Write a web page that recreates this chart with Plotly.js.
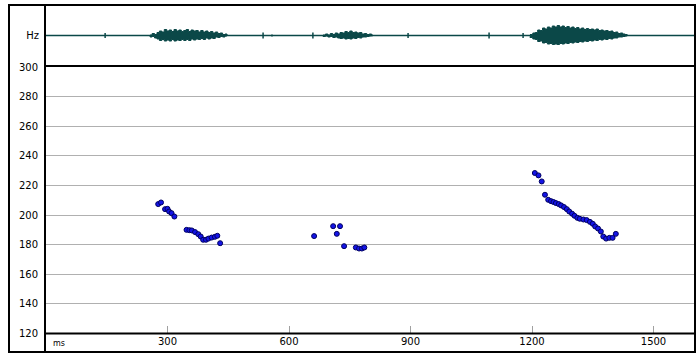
<!DOCTYPE html>
<html>
<head>
<meta charset="utf-8">
<script src="https://cdn.plot.ly/plotly-3.0.1.min.js"></script>
<style>html,body{margin:0;padding:0;background:#fff;}#chart{width:696px;height:354px;}</style>
</head>
<body>
<div id="chart"></div>
<script>
// ---- pitch track (ms, Hz) ----
const pitchMs = [277,284,294,300,304,310,317,347,354,360,368,376,382,388,395,401,409,417,423,430,
  662,709,718,726,736,765,773,780,786,
  1207,1216,1224,1232,1240,1247,1253,1259,1266,1272,1279,1286,1292,1299,1305,1312,1318,1327,1335,1343,1350,1356,1363,1370,1376,1383,1391,1399,1407];
const pitchHz = [207.4,208.5,204.0,204.2,202.4,201.3,199.0,190.0,189.8,189.6,188.5,187.1,185.5,183.3,183.3,184.1,184.8,185.3,186.0,181.0,
  185.8,192.5,187.3,192.5,179.0,178.1,177.4,177.4,178.1,
  228.4,226.8,222.7,213.7,210.3,209.4,208.8,208.1,207.4,206.5,205.4,204.0,202.4,200.9,199.5,198.1,197.5,197.0,196.6,195.4,194.1,192.3,190.9,188.9,185.5,184.1,184.6,184.6,187.3];

// ---- waveform envelopes (ms, upper amplitude, lower amplitude) ----
const blob1Ms   = [257,262,268,274,280,286,292,298,304,310,316,322,328,334,340,346,352,358,364,370,376,382,388,394,400,406,412,418,424,430,436,442,447];
const blob1Up   = [0.5,2,1,3,4.5,3.5,6,4.5,5.5,4,6,4.5,5.5,4,5,6,4,5.5,4.5,5,3.5,5,3.5,4.5,3,4,2.5,3.5,2,2.5,1,1.5,0.5];
const blob1Down = [0.5,1.5,1,2.5,3.5,5,4,5.5,4.5,5.5,4,5.5,4.5,5,4,5,4,5,3.5,4.5,3.5,4,3,4,2.5,3.5,2.5,3,1.5,2,1,1.5,0.5];

const blob2Ms   = [684,690,696,702,708,714,720,726,732,738,744,750,756,762,768,774,780,786,792,798,804,807];
const blob2Up   = [0.5,1.5,0.5,2,1,2.5,1.5,3,2.5,4,3,4.5,3,3.5,2.5,3,1.5,2,1,1.5,0.5,0.3];
const blob2Down = [0.5,1,0.5,1.5,1,2,1.5,2.5,3,2.5,3.5,3,3.5,2.5,3,2,2.5,1.5,1.5,1,0.5,0.3];

const blob3Ms   = [1195,1202,1208,1214,1220,1226,1232,1238,1244,1250,1256,1262,1268,1274,1280,1286,1292,1298,1304,1310,1316,1322,1328,1334,1340,1346,1352,1358,1364,1370,1376,1382,1388,1394,1400,1406,1412,1418,1424,1430,1435];
const blob3Up   = [1,2.5,3,5.5,5,7.5,6.5,8.5,7.5,9.5,8.5,10,8.5,9.5,8,9,7.5,8.5,7,8,6.5,7.5,6,7,6,6.5,5.5,6.5,5,5.5,4.5,5,4,4.5,3,3.5,2,2.5,1.5,1,0.5];
const blob3Down = [1,2,3.5,4,6,5.5,7.5,7,8.5,8,9,8.5,9,8,8.5,7.5,8,7,7.5,6.5,7,6,6.5,5.5,6,5,5.5,4.5,5,4,4.5,3.5,4,3,3.5,2.5,2.5,1.5,1.5,1,0.5];

const spikeMs  = [146,536,558,659,894,1094,1178];
const spikeAmp = [2.5,3,1,3,2.5,3,2.5];

const xTicks = [300,600,900,1200,1500];
const yTicks = [120,140,160,180,200,220,240,260,280,300];

const W = 696, H = 354;
const px = v => v / W;
const py = v => 1 - v / H;
const waveColor = '#0b4848';
const font = {family: 'DejaVu Sans', size: 10, color: '#000'};

function blobTrace(ms, up, down) {
  const x = ms.concat(ms.slice().reverse());
  const y = up.concat(down.map(d => -d).reverse());
  return {x: x, y: y, xaxis: 'x', yaxis: 'y2', mode: 'lines', fill: 'toself',
    fillcolor: waveColor, line: {color: waveColor, width: 1, shape: 'hv'}, hoverinfo: 'skip'};
}

const spikeX = [], spikeY = [];
spikeMs.forEach((m, i) => { spikeX.push(m, m, null); spikeY.push(-spikeAmp[i], spikeAmp[i], null); });

const traces = [
  {x: [0, 1600], y: [0, 0], xaxis: 'x', yaxis: 'y2', mode: 'lines', line: {color: waveColor, width: 1.3}, hoverinfo: 'skip'},
  blobTrace(blob1Ms, blob1Up, blob1Down),
  blobTrace(blob2Ms, blob2Up, blob2Down),
  blobTrace(blob3Ms, blob3Up, blob3Down),
  {x: spikeX, y: spikeY, xaxis: 'x', yaxis: 'y2', mode: 'lines', line: {color: waveColor, width: 1.5}, hoverinfo: 'skip'},
  {x: pitchMs, y: pitchHz, xaxis: 'x', yaxis: 'y', mode: 'markers',
    marker: {size: 5, color: '#1414e6', line: {color: '#000060', width: 1}}}
];

const line = (x0, y0, x1, y1, w) => ({type: 'line', xref: 'paper', yref: 'paper',
  x0: px(x0), y0: py(y0), x1: px(x1), y1: py(y1), line: {color: '#000', width: w}, layer: 'above'});

const layout = {
  width: W, height: H,
  margin: {l: 0, r: 0, t: 0, b: 0},
  paper_bgcolor: '#fff', plot_bgcolor: '#fff',
  showlegend: false,
  xaxis: {domain: [px(46), px(694)], range: [0, 1600], tickvals: xTicks, ticktext: xTicks.map(String),
    ticks: 'inside', ticklen: 8, tickcolor: '#a0a0a0', tickwidth: 1,
    showgrid: false, zeroline: false, showline: false, tickfont: font, anchor: 'y', fixedrange: true},
  yaxis: {domain: [py(333.5), py(67)], range: [120, 300], tickvals: yTicks, ticktext: yTicks.map(String),
    ticks: '', showgrid: true, gridcolor: '#b0b0b0', gridwidth: 1, zeroline: false, showline: false,
    tickfont: font, ticklabelstandoff: 7, anchor: 'x', fixedrange: true},
  yaxis2: {domain: [py(65), py(6)], range: [-29.5, 29.5], tickvals: [0], ticktext: ['Hz'],
    ticks: '', showgrid: false, zeroline: false, showline: false, tickfont: font, ticklabelstandoff: 6,
    anchor: 'x', fixedrange: true},
  shapes: [
    {type: 'rect', xref: 'paper', yref: 'paper', x0: px(9), y0: py(352), x1: px(695), y1: py(5),
      line: {color: '#000', width: 2}, layer: 'above'},
    line(45, 5, 45, 352, 2),
    line(45, 66, 695, 66, 2),
    line(45, 333.5, 695, 333.5, 2)
  ],
  annotations: [
    {xref: 'paper', yref: 'paper', x: px(51), y: py(343.5), text: 'ms', showarrow: false,
      xanchor: 'left', yanchor: 'middle', font: {family: 'DejaVu Sans', size: 8, color: '#000'}}
  ]
};

Plotly.newPlot('chart', traces, layout, {staticPlot: true, displayModeBar: false});
</script>
</body>
</html>
